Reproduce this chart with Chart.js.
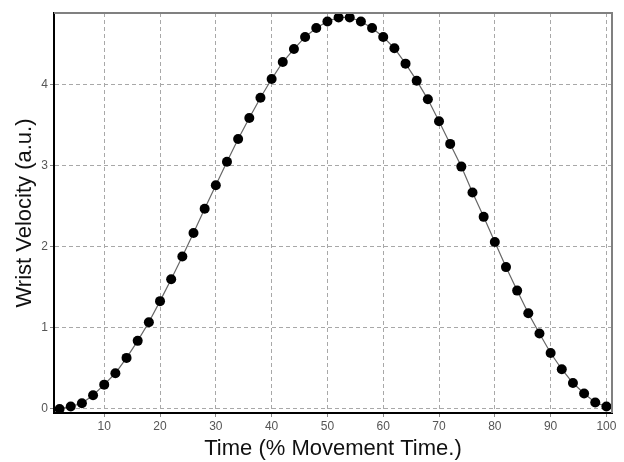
<!DOCTYPE html>
<html>
<head>
<meta charset="utf-8">
<script src="https://cdn.jsdelivr.net/npm/chart.js@4/dist/chart.umd.min.js"></script>
<style>
  html, body { margin: 0; padding: 0; background: #fff; }
  #wrap { width: 624px; height: 462px; }
</style>
</head>
<body>
<div id="wrap"><canvas id="velChart"></canvas></div>
<script>
// time, % of movement time
const timePct = [2, 4, 6, 8, 10, 12, 14, 16, 18, 20, 22, 24, 26, 28, 30, 32, 34, 36, 38, 40,
  42, 44, 46, 48, 50, 52, 54, 56, 58, 60, 62, 64, 66, 68, 70, 72, 74, 76, 78, 80,
  82, 84, 86, 88, 90, 92, 94, 96, 98, 100];
// wrist velocity, a.u.
const velocity = [0.00, 0.03, 0.07, 0.17, 0.30, 0.44, 0.63, 0.84, 1.07, 1.33, 1.60, 1.88, 2.17, 2.47, 2.76, 3.05, 3.33, 3.59, 3.84, 4.07,
  4.28, 4.44, 4.59, 4.70, 4.78, 4.83, 4.83, 4.78, 4.70, 4.59, 4.45, 4.26, 4.05, 3.82, 3.55, 3.27, 2.99, 2.67, 2.37, 2.06,
  1.75, 1.46, 1.18, 0.93, 0.69, 0.49, 0.32, 0.19, 0.08, 0.03];
const xTicks = [10, 20, 30, 40, 50, 60, 70, 80, 90, 100];
const yTicks = [0, 1, 2, 3, 4];

const points = timePct.map((t, i) => ({ x: t, y: velocity[i] }));

// gray frame on top and right like the original
const frame = {
  id: 'frame',
  afterDraw(chart) {
    const { ctx, chartArea: a } = chart;
    ctx.save();
    ctx.strokeStyle = '#808080';
    ctx.lineWidth = 2;
    ctx.beginPath();
    ctx.moveTo(a.left, a.top);
    ctx.lineTo(a.right, a.top);
    ctx.lineTo(a.right, a.bottom);
    ctx.stroke();
    ctx.restore();
  }
};

const font = 'Liberation Sans, Arial, sans-serif';

new Chart(document.getElementById('velChart'), {
  type: 'line',
  data: {
    datasets: [{
      data: points,
      borderColor: '#666',
      borderWidth: 1.2,
      pointRadius: 5,
      pointBackgroundColor: '#000',
      pointBorderColor: '#000',
      pointBorderWidth: 0,
      tension: 0
    }]
  },
  options: {
    responsive: true,
    maintainAspectRatio: false,
    animation: false,
    layout: { padding: { top: 13, right: 12, left: 0, bottom: 0 } },
    plugins: { legend: { display: false }, tooltip: { enabled: false } },
    scales: {
      x: {
        type: 'linear',
        min: 1,
        max: 101,
        afterBuildTicks: s => { s.ticks = xTicks.map(v => ({ value: v })); },
        afterFit: s => { s.height = 49; },
        border: { color: '#000', width: 2, dash: [4, 3] },
        grid: { color: '#a8a8a8', lineWidth: 1, tickColor: '#888', tickLength: 4, tickBorderDash: [] },
        ticks: { color: '#555', font: { family: font, size: 12 }, padding: 2, maxRotation: 0 },
        title: { display: true, text: 'Time (% Movement Time.)', color: '#111',
          font: { family: font, size: 22 }, padding: { top: 0, bottom: 0 } }
      },
      y: {
        min: -0.05,
        max: 4.885,
        afterBuildTicks: s => { s.ticks = yTicks.map(v => ({ value: v })); },
        afterFit: s => { s.width = 54; },
        border: { color: '#000', width: 2, dash: [4, 3] },
        grid: { color: '#a8a8a8', lineWidth: 1, tickColor: '#888', tickLength: 4, tickBorderDash: [] },
        ticks: { color: '#555', font: { family: font, size: 12 }, padding: 2 },
        title: { display: true, text: 'Wrist Velocity (a.u.)', color: '#111',
          font: { family: font, size: 22 }, padding: { top: 12, bottom: 0 } }
      }
    }
  },
  plugins: [frame]
});
</script>
</body>
</html>
